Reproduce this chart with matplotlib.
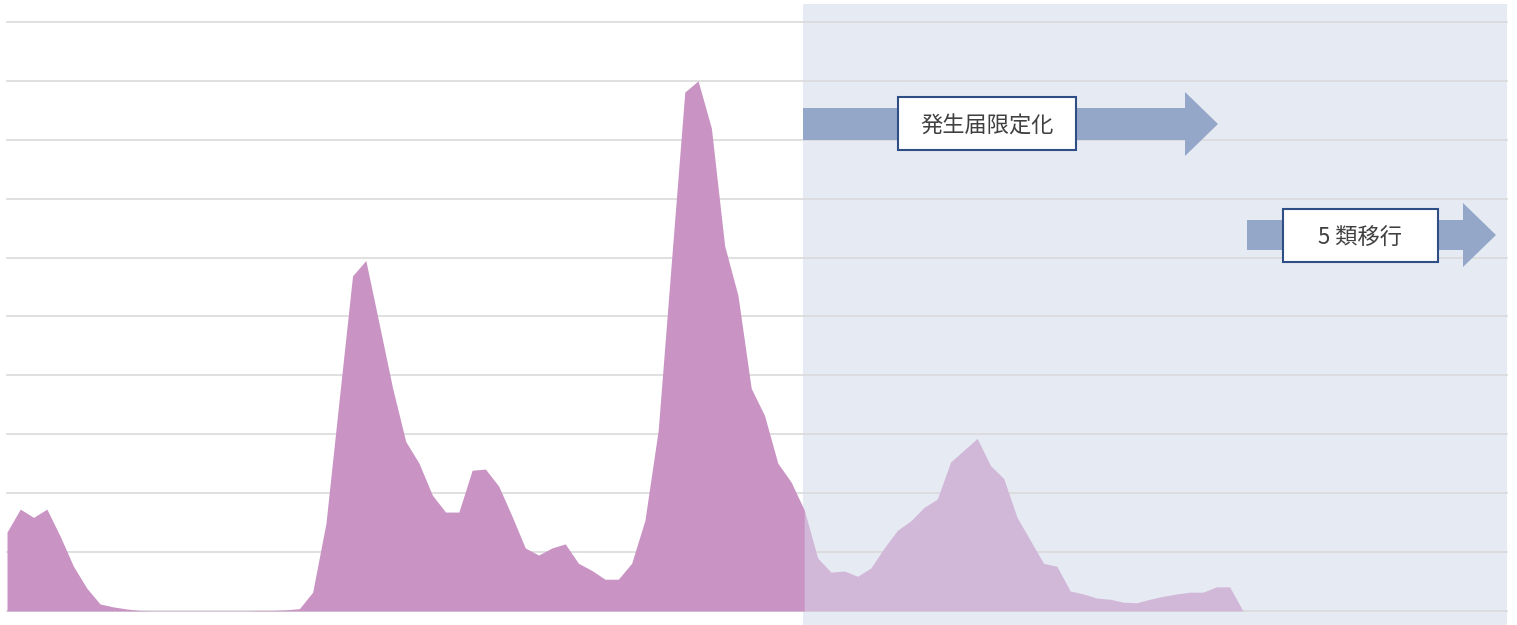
import matplotlib
matplotlib.use("Agg")
from matplotlib import pyplot as plt
from matplotlib.patches import FancyArrow, Rectangle
import numpy as np

plt.rcParams['font.family'] = ['Noto Sans CJK JP', 'DejaVu Sans']

# weekly values (grid step = 10), before and after the switch
before = [13.4, 17.3, 15.9, 17.3, 12.7, 7.6, 3.9, 1.2, 0.7, 0.35,
          0.1, 0.05, 0.05, 0.05, 0.05, 0.05, 0.05, 0.05, 0.05, 0.1,
          0.1, 0.2, 0.4, 3.2, 14.9, 36.0, 56.9, 59.5, 48.8, 38.0,
          28.8, 25.1, 19.7, 16.8, 16.8, 23.9, 24.1, 21.2, 16.1, 10.7,
          9.5, 10.7, 11.4, 8.1, 6.9, 5.4, 5.4, 8.1, 15.4, 30.7,
          59.5, 88.1, 90.0, 82.0, 62.0, 53.6, 37.8, 33.2, 25.1, 21.9,
          17.1]
after = [17.1, 9.0, 6.6, 6.8, 5.9, 7.3, 10.7, 13.7, 15.3, 17.6,
         19.0, 25.3, 27.3, 29.3, 24.7, 22.5, 15.9, 12.0, 8.1, 7.6,
         3.4, 2.9, 2.2, 2.0, 1.5, 1.4, 2.0, 2.5, 2.9, 3.2,
         3.2, 4.1, 4.1, 0.0]
labels = ["発生届限定化", "5 類移行"]

W, H = 1517, 625
fig = plt.figure(figsize=(W / 100, H / 100), dpi=100)
ax = fig.add_axes([0, 0, 1, 1])

step = 13.29
x0 = 7
xb = np.arange(len(before))
xa = np.arange(len(after)) + len(before) - 1

ax.set_xlim(-x0 / step, (W - x0) / step)
ax.set_ylim(-14 / 5.9, 100 + 22 / 5.9)
ax.axis('off')

xend = (1507 - x0) / step
xsplit = (803 - x0) / step
ax.axvspan(xsplit, xend, ymin=0, ymax=1 - 4 / H, color='#e6ebf3', lw=0, zorder=0)

for g in range(0, 101, 10):
    ax.plot([0, xend], [g, g], color='#dadada', lw=1.2, zorder=1)

ax.fill_between(xb, before, 0, color='#c994c4', lw=0, zorder=2)
ax.fill_between(xa, after, 0, color='#d2b8d8', lw=0, zorder=2)


def px(x, y):
    return x / W, 1 - y / H


def arrow(xs, xe, yc, shaft, head_w, head_l):
    x, y = px(xs, yc)
    dx = (xe - xs) / W
    a = FancyArrow(x, y, dx, 0, width=shaft / H, head_width=head_w / H,
                   head_length=head_l / W, length_includes_head=True,
                   transform=fig.transFigure, color='#94a7c9', lw=0, zorder=3)
    fig.add_artist(a)


def box(x1, y1, x2, y2, txt):
    x, y = px(x1, y2)
    r = Rectangle((x, y), (x2 - x1) / W, (y2 - y1) / H, transform=fig.transFigure,
                  facecolor='white', edgecolor='#2f4e85', lw=1.5, zorder=4)
    fig.add_artist(r)
    cx, cy = px((x1 + x2) / 2, (y1 + y2) / 2 + 3)
    fig.text(cx, cy, txt, ha='center', va='center', fontsize=16, color='#404040', zorder=5)


arrow(803, 1218, 124, 32, 64, 33)
box(898, 97, 1076, 150, labels[0])
arrow(1247, 1496, 235, 30, 64, 33)
box(1283, 209, 1438, 262, labels[1])

fig.savefig("out.png", dpi=100)
